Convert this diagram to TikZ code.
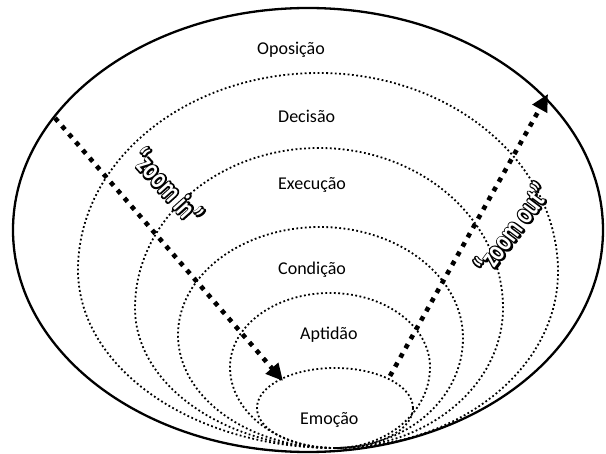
\documentclass[tikz,border=0pt]{standalone}
\usepackage{graphicx}
\usepackage{fontspec}
\setmainfont{Carlito}
\usetikzlibrary{arrows.meta,calc}

% vertically stretched bold word for the zoom labels
\newcommand\tallword[1]{\scalebox{0.95}[1.3]{#1}}
% the same word drawn as a thick stroked outline (text render mode 1)
\newcommand\strokedword[1]{\special{pdf:literal direct 1 Tr 2.8 w 1 j}#1\special{pdf:literal direct 0 Tr}}

\begin{document}
\begin{tikzpicture}[x=1pt,y=-1pt,
  frame/.style={line width=2.3pt},
  ring/.style={line width=1.8pt, dash pattern=on 1.8pt off 2.5pt},
  zoomarrow/.style={line width=4.6pt, dash pattern=on 4.6pt off 6pt,
                    -{Triangle[length=17pt,width=16pt]}},
  level/.style={anchor=base west, inner sep=0pt, font=\fontsize{18}{20}\selectfont},
  zoomlabel/.style={inner sep=0pt, font=\fontsize{23}{24}\selectfont\bfseries},
]
\clip (0,0) rectangle (606,454);

% outer boundary
\draw[frame] (308,230) ellipse [x radius=295, y radius=222];

% nested levels, all meeting at a common bottom point
\coordinate (B) at (335,448);

% level 1 (Decisão)
\coordinate (L1) at (78,270);  \coordinate (T1) at (319,73);  \coordinate (R1) at (558,272);
\draw[ring] (B) .. controls +(-142,0) and +(0,98) .. (L1)
               .. controls +(0,-109) and +(-133,0) .. (T1)
               .. controls +(132,0) and +(0,-110) .. (R1)
               .. controls +(0,97) and +(123,0) .. (B);

% level 2 (Execução)
\coordinate (L2) at (135,308); \coordinate (T2) at (319,148); \coordinate (R2) at (503,308);
\draw[ring] (B) .. controls +(-110,0) and +(0,77) .. (L2)
               .. controls +(0,-88) and +(-102,0) .. (T2)
               .. controls +(102,0) and +(0,-88) .. (R2)
               .. controls +(0,77) and +(93,0) .. (B);

% level 3 (Condição)
\coordinate (L3) at (178,335); \coordinate (T3) at (320,227); \coordinate (R3) at (463,338);
\draw[ring] (B) .. controls +(-87,0) and +(0,62) .. (L3)
               .. controls +(0,-60) and +(-78,0) .. (T3)
               .. controls +(79,0) and +(0,-61) .. (R3)
               .. controls +(0,61) and +(71,0) .. (B);

% level 4 (Aptidão)
\coordinate (L4) at (230,367); \coordinate (T4) at (330,293); \coordinate (R4) at (430,367);
\draw[ring] (B) .. controls +(-58,0) and +(0,45) .. (L4)
               .. controls +(0,-41) and +(-55,0) .. (T4)
               .. controls +(55,0) and +(0,-41) .. (R4)
               .. controls +(0,45) and +(52,0) .. (B);

% level 5 (Emoção)
\draw[ring] (335,408) ellipse [x radius=78, y radius=40];

% level names
\node[level] (oposicao) at (257,55)  {Oposição};
\node[level] (decisao)  at (278,123) {Decisão};
\node[level] (execucao) at (278,190) {Execução};
\node[level] (condicao) at (278,275) {Condição};
\node[level] (aptidao)  at (300,340) {Aptidão};
\node[level] (emocao)   at (300,425) {Emoção};

% zoom arrows
\coordinate (zin-start)  at (55,118);
\coordinate (zin-end)    at (283,381);
\coordinate (zout-start) at (390,376);
\coordinate (zout-end)   at (548,94);
\draw[zoomarrow] (zin-start) -- (zin-end);
\draw[zoomarrow] (zout-start) -- (zout-end);

% outlined labels: stroked black word underneath, white word on top
\coordinate (zin-lbl)  at (168,186);
\coordinate (zout-lbl) at (512,228);
\node[zoomlabel, text=black, rotate=-48] (zin-edge)  at (zin-lbl)  {\tallword{\strokedword{“zoom in”}}};
\node[zoomlabel, text=black, rotate=53]  (zout-edge) at (zout-lbl) {\tallword{\strokedword{“zoom out”}}};
\node[zoomlabel, text=white, rotate=-48] (zin-text)  at (zin-lbl)  {\tallword{“zoom in”}};
\node[zoomlabel, text=white, rotate=53]  (zout-text) at (zout-lbl) {\tallword{“zoom out”}};
\end{tikzpicture}
\end{document}
